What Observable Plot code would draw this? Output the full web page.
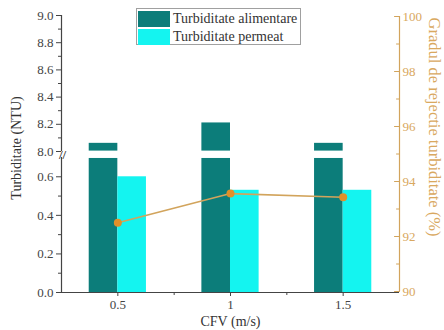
<!DOCTYPE html>
<html>
<head>
<meta charset="utf-8">
<script src="https://cdn.jsdelivr.net/npm/d3@7"></script>
<script src="https://cdn.jsdelivr.net/npm/@observablehq/plot@0.6"></script>
<style>
  html, body { margin: 0; padding: 0; background: #fff; }
  #wrap { position: relative; width: 444px; height: 330px; font-family: "Liberation Serif", serif; }
  #wrap > svg { position: absolute; left: 0; top: 0; }
  #legend { position: absolute; left: 136px; top: 8px; width: 165px; height: 37px; border: 1px solid #a0a0a0; background: #fff; box-sizing: border-box; padding: 1px; font-size: 14px; color: #333; }
  .row { display: flex; align-items: center; height: 17px; margin-bottom: 1px; }
  .sw { width: 32px; height: 16px; margin-right: 3px; }
</style>
</head>
<body>
<div id="wrap"></div>
<script>
// ---- data ----
const cfv = [0.5, 1, 1.5];
const seriesNames = ["Turbiditate alimentare", "Turbiditate permeat"];
const feedTurbidity = [8.06, 8.21, 8.06];
const permeateTurbidity = [0.60, 0.53, 0.53];
const rejection = [92.5, 93.56, 93.43];

const xTicks = [0.5, 1, 1.5];
const xMinorTicks = [0.75, 1.25];
const leftTicks = [0.0, 0.2, 0.4, 0.6, 8.0, 8.2, 8.4, 8.6, 8.8, 9.0];
const leftMinorTicks = [0.1, 0.3, 0.5, 8.1, 8.3, 8.5, 8.7, 8.9];
const rightTicks = [90, 92, 94, 96, 98, 100];
const rightMinorTicks = [91, 93, 95, 97, 99];

const xDomain = [0.25, 1.75];
const yLower = [0, 0.7];   // lower segment of broken axis
const yUpper = [8.0, 9.0]; // upper segment of broken axis
const yRight = [90, 100];

const leftTitle = "Turbiditate (NTU)";
const rightTitle = "Gradul de rejectie turbiditate (%)";
const xTitle = "CFV (m/s)";

// ---- styles ----
const colors = ["#0c7d7a", "#14f4f0"];
const tan = "#d2a45c";
const tanText = "#d9a860";
const dotColor = "#e0902a";
const axisColor = "#444";
const barW = 0.127;
const W = 444, H = 330;
const mL = 61, mR = 45, mT = 15, mB = 38;
const font = {fontFamily: '"Liberation Serif", serif', fontSize: "13px", background: "transparent", overflow: "visible"};

const bars = [];
cfv.forEach((c, i) => {
  bars.push({cfv: c, series: seriesNames[0], value: feedTurbidity[i], k: 0});
  bars.push({cfv: c, series: seriesNames[1], value: permeateTurbidity[i], k: 1});
});
const rej = cfv.map((c, i) => ({cfv: c, r: rejection[i]}));

const tickShapeLeft = {draw(ctx, l) { ctx.moveTo(0, 0); ctx.lineTo(0, -l); }};

const p1 = Plot.plot({
  width: W, height: H, marginLeft: mL, marginRight: mR, marginTop: mT, marginBottom: mB,
  style: font,
  x: {type: "linear", domain: xDomain},
  y: {type: "linear", domain: [yLower[0], yLower[1], yUpper[0], yUpper[1]], range: [H - mB, 157, 151, mT]},
  color: {domain: seriesNames, range: colors},
  marks: [
    Plot.rect(bars, {
      x1: d => d.k === 0 ? d.cfv - barW : d.cfv,
      x2: d => d.k === 0 ? d.cfv : d.cfv + barW,
      y1: 0, y2: "value", fill: "series"
    }),
    // white gap of the broken axis
    Plot.rect([0], {x1: xDomain[0], x2: xDomain[1], y1: yLower[1] - 0.005, y2: yUpper[0] + 0.003, fill: "white"}),
    Plot.ruleY([0], {stroke: axisColor, strokeWidth: 1.2}),
    Plot.ruleX([xDomain[0]], {y1: yLower[0], y2: yLower[1], stroke: axisColor, strokeWidth: 1.2}),
    Plot.ruleX([xDomain[0]], {y1: yUpper[0], y2: yUpper[1], stroke: axisColor, strokeWidth: 1.2}),
    Plot.text(["//"], {x: xDomain[0], y: yUpper[0], dy: 3, dx: 1, text: d => d, fontSize: 13, fill: axisColor, fontWeight: "bold"}),
    Plot.axisY(leftTicks, {anchor: "left", tickSize: 5, tickPadding: 3, tickFormat: d3.format(".1f"), fill: "#444", stroke: axisColor, label: null, fontSize: 13}),
    Plot.axisY(leftMinorTicks, {anchor: "left", tickSize: 3, tickFormat: () => "", stroke: axisColor, label: null}),
    Plot.axisX(xTicks, {anchor: "bottom", tickSize: 4, tickPadding: 3, tickFormat: d => String(d), fill: "#444", stroke: axisColor, label: null, fontSize: 13}),
    Plot.axisX(xMinorTicks, {anchor: "bottom", tickSize: 3, tickFormat: () => "", stroke: axisColor, label: null}),
    Plot.text([leftTitle], {frameAnchor: "left", textAnchor: "middle", text: d => d, rotate: -90, dx: -45, dy: -6, fontSize: 14, fill: "#333"}),
    Plot.text([xTitle], {frameAnchor: "bottom", textAnchor: "middle", text: d => d, dy: 33, fontSize: 14, fill: "#333"})
  ]
});

const p2 = Plot.plot({
  width: W, height: H, marginLeft: mL, marginRight: mR, marginTop: mT, marginBottom: mB,
  style: font,
  x: {type: "linear", domain: xDomain, axis: null},
  y: {type: "linear", domain: yRight, range: [291, 16], axis: null},
  marks: [
    Plot.ruleX([xDomain[1]], {y1: yRight[0], y2: yRight[1], stroke: tan, strokeWidth: 1.2}),
    Plot.vector(rightTicks, {y: d => d, frameAnchor: "right", length: 5, rotate: -90, anchor: "start", shape: tickShapeLeft, stroke: tan, strokeWidth: 1}),
    Plot.vector(rightMinorTicks, {y: d => d, frameAnchor: "right", length: 3, rotate: -90, anchor: "start", shape: tickShapeLeft, stroke: tan, strokeWidth: 1}),
    Plot.axisY(rightTicks, {anchor: "right", tickSize: 0, tickPadding: 3, tickFormat: d => String(d), fill: tanText, label: null, fontSize: 13}),
    Plot.line(rej, {x: "cfv", y: "r", stroke: tan, strokeWidth: 1.6}),
    Plot.dot(rej, {x: "cfv", y: "r", r: 4, fill: dotColor, stroke: "none"}),
    Plot.text([rightTitle], {frameAnchor: "right", textAnchor: "middle", text: d => d, rotate: 90, dx: 35, dy: -27, fontSize: 16.5, fill: tanText})
  ]
});

const wrap = document.getElementById("wrap");
wrap.appendChild(p1);
wrap.appendChild(p2);

const legend = document.createElement("div");
legend.id = "legend";
seriesNames.forEach((name, i) => {
  const row = document.createElement("div");
  row.className = "row";
  const sw = document.createElement("div");
  sw.className = "sw";
  sw.style.background = colors[i];
  const label = document.createElement("span");
  label.textContent = name;
  row.appendChild(sw);
  row.appendChild(label);
  legend.appendChild(row);
});
wrap.appendChild(legend);
</script>
</body>
</html>
